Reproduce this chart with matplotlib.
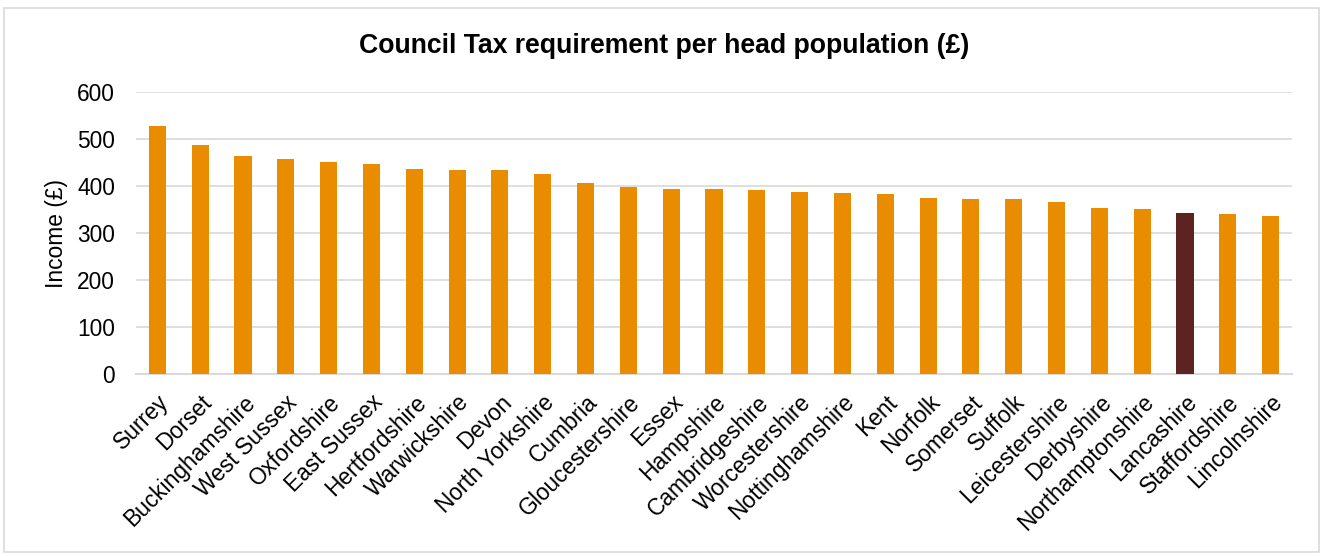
import matplotlib
matplotlib.use("Agg")
import matplotlib.pyplot as plt
from matplotlib.patches import Rectangle

plt.rcParams['font.family'] = ['Liberation Sans', 'DejaVu Sans']

counties = ["Surrey", "Dorset", "Buckinghamshire", "West Sussex", "Oxfordshire",
            "East Sussex", "Hertfordshire", "Warwickshire", "Devon", "North Yorkshire",
            "Cumbria", "Gloucestershire", "Essex", "Hampshire", "Cambridgeshire",
            "Worcestershire", "Nottinghamshire", "Kent", "Norfolk", "Somerset",
            "Suffolk", "Leicestershire", "Derbyshire", "Northamptonshire", "Lancashire",
            "Staffordshire", "Lincolnshire"]
values = [528, 487, 464, 457, 451, 446, 436, 434, 434, 425,
          406, 397, 394, 394, 391, 388, 385, 382, 374, 372,
          372, 365, 353, 351, 343, 340, 336]
highlight = "Lancashire"
yticks = [0, 100, 200, 300, 400, 500, 600]
title = "Council Tax requirement per head population (£)"

orange = "#EA8C00"
dark = "#5C2320"
colors = [dark if c == highlight else orange for c in counties]

W, H = 1323, 556
fig = plt.figure(figsize=(W / 100, H / 100), dpi=100)
renderer = fig.canvas.get_renderer()

def size_for_width(text, target_px, weight="normal", ref=10.0):
    t = fig.text(0, 0, text, fontsize=ref, fontweight=weight)
    w = t.get_window_extent(renderer).width
    t.remove()
    return ref * target_px / w

title_fs = size_for_width(title, 612, "bold")
tick_fs = size_for_width("600", 38)

fig.patches.append(Rectangle((4 / W, 4 / H), 1 - 8 / W, 1 - 12 / H, transform=fig.transFigure,
                             fill=False, edgecolor="#D9D9D9", linewidth=1.2))
ax = fig.add_axes([136 / W, 1 - 374 / H, (1292 - 136) / W, (374 - 92) / H])
x = list(range(len(counties)))
ax.bar(x, values, width=0.40, color=colors, zorder=3)
ax.set_xlim(-0.5, len(counties) - 0.5)
ax.set_ylim(0, 600)
ax.set_yticks(yticks)
ax.set_yticklabels([str(t) for t in yticks], fontsize=tick_fs)
ax.set_xticks(x)
ax.set_xticklabels(counties, rotation=45, ha="right", rotation_mode="anchor", fontsize=tick_fs)
ax.tick_params(axis="y", length=0, pad=15)
ax.tick_params(axis="x", length=0, pad=12)
ax.grid(axis="y", color="#D9D9D9", linewidth=1.2, zorder=0)
for s in ["top", "right", "left"]:
    ax.spines[s].set_visible(False)
ax.spines["bottom"].set_color("#D9D9D9")
ax.spines["bottom"].set_linewidth(1.5)
ax.set_ylabel("Income (£)", fontsize=tick_fs)
ax.yaxis.set_label_coords((68 - 136) / (1292 - 136), 0.5)
fig.text(664 / W, 1 - 46 / H, title, ha="center", va="center",
         fontsize=title_fs, fontweight="bold")
fig.savefig("out.png", dpi=100)
